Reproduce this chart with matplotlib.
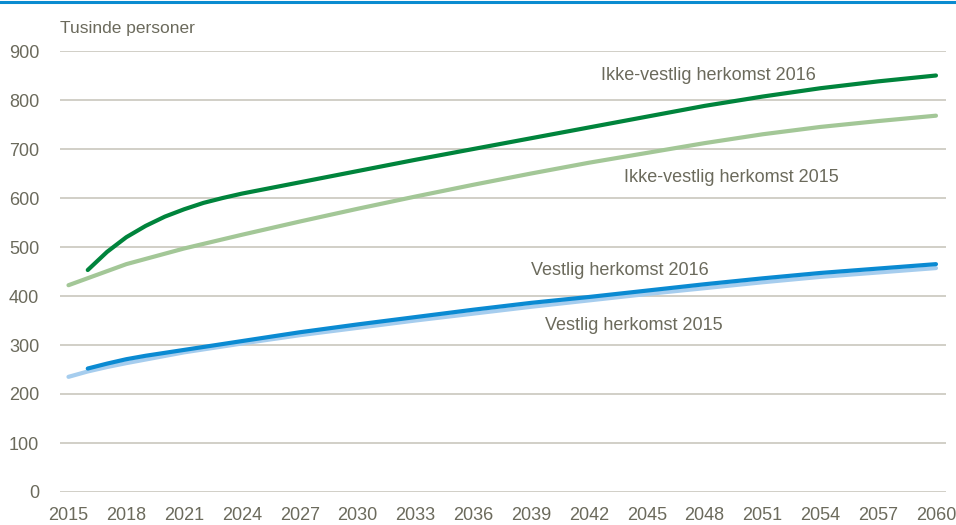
import matplotlib.pyplot as plt
from matplotlib.lines import Line2D

# data (thousand persons)
yrs_ikke16 = [2016, 2017, 2018, 2019, 2020, 2021, 2022, 2023, 2024, 2027, 2030, 2033,
              2036, 2039, 2042, 2045, 2048, 2051, 2054, 2057, 2060]
ikke16 = [453, 490, 520, 543, 562, 577, 590, 600, 609, 632, 655, 678,
          700, 722, 744, 766, 788, 807, 824, 838, 850]

yrs_ikke15 = [2015, 2018, 2021, 2024, 2027, 2030, 2033, 2036, 2039, 2042, 2045,
              2048, 2051, 2054, 2057, 2060]
ikke15 = [422, 465, 497, 525, 552, 578, 603, 627, 650, 672, 692,
          712, 730, 745, 757, 768]

yrs_vest16 = [2016, 2017, 2018, 2019, 2020, 2021, 2024, 2027, 2030, 2033, 2036,
              2039, 2042, 2045, 2048, 2051, 2054, 2057, 2060]
vest16 = [252, 262, 271, 278, 284, 290, 308, 326, 342, 357, 372,
          386, 398, 411, 424, 436, 447, 456, 465]

yrs_vest15 = [2015, 2016, 2017, 2018, 2021, 2024, 2027, 2030, 2033, 2036, 2039,
              2042, 2045, 2048, 2051, 2054, 2057, 2060]
vest15 = [235, 246, 255, 263, 285, 303, 320, 335, 350, 364, 378,
          391, 404, 416, 428, 439, 448, 457]

xticks = list(range(2015, 2061, 3))
yticks = list(range(0, 901, 100))

txt_col = '#6b6a5c'
grid_col = '#c9c7bd'
plt.rcParams['font.family'] = ['Liberation Sans', 'DejaVu Sans']

fig = plt.figure(figsize=(9.56, 5.25), dpi=100)
ax = fig.add_axes([60/956, 1-492/525, 886/956, (492-51)/525])

# thin blue band at the very top
fig.add_artist(Line2D([0, 1], [1-1.5/525, 1-1.5/525], color='#0a8bd0', lw=2.2,
                      transform=fig.transFigure))

kw = dict(lw=3.0, solid_capstyle='round')
ax.plot(yrs_ikke15, ikke15, color='#a3c797', **kw)
ax.plot(yrs_ikke16, ikke16, color='#00843c', **kw)
ax.plot(yrs_vest15, vest15, color='#a6cdee', **kw)
ax.plot(yrs_vest16, vest16, color='#0a8ad2', **kw)

ax.set_xlim(2014.56, 2060.52)
ax.set_ylim(0, 900)
ax.set_xticks(xticks)
ax.set_yticks(yticks)
ax.tick_params(length=0, labelsize=13, colors=txt_col)
ax.tick_params(axis='y', pad=15)
ax.tick_params(axis='x', pad=11)
ax.grid(axis='y', color=grid_col, lw=1.2)
ax.set_axisbelow(True)
for s in ax.spines.values():
    s.set_visible(False)

ax.text(0, (492-33)/441, 'Tusinde personer', transform=ax.transAxes, fontsize=12.5,
        color=txt_col, ha='left', va='baseline')

tk = dict(fontsize=13, color=txt_col, ha='center', va='center')
ax.text(2048.2, 851, 'Ikke-vestlig herkomst 2016', **tk)
ax.text(2049.4, 641, 'Ikke-vestlig herkomst 2015', **tk)
ax.text(2043.6, 453, 'Vestlig herkomst 2016', **tk)
ax.text(2044.3, 339, 'Vestlig herkomst 2015', **tk)

fig.savefig('out.png', dpi=100)
